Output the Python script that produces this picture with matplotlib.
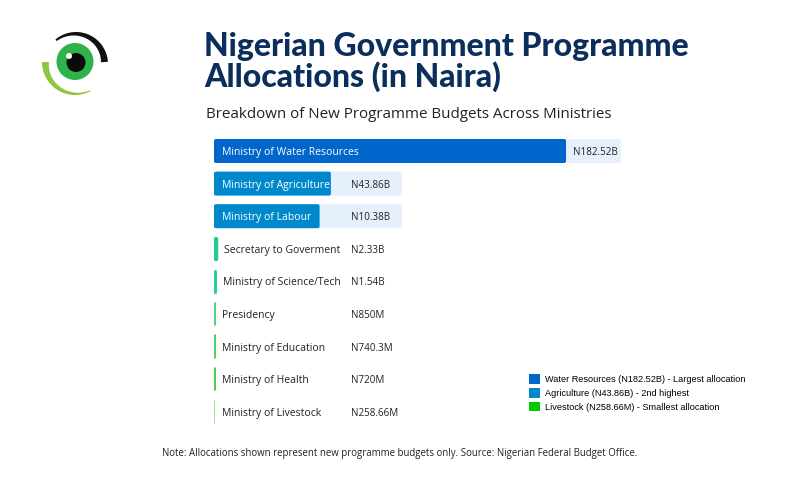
import numpy as np
import matplotlib
matplotlib.use("Agg")
import matplotlib.pyplot as plt
from matplotlib.patches import FancyBboxPatch, Polygon, Circle, Patch

ministries = ["Ministry of Water Resources", "Ministry of Agriculture", "Ministry of Labour",
              "Secretary to Goverment", "Ministry of Science/Tech", "Presidency",
              "Ministry of Education", "Ministry of Health", "Ministry of Livestock"]
amounts_bn = [182.52, 43.86, 10.38, 2.33, 1.54, 0.85, 0.7403, 0.72, 0.25866]
amount_labels = ["N182.52B", "N43.86B", "N10.38B", "N2.33B", "N1.54B",
                 "N850M", "N740.3M", "N720M", "N258.66M"]
bar_colors = ["#0066cc", "#0088cc", "#0088cc", "#20c997", "#20cf88",
              "#2fcb66", "#22c844", "#22c02a", "#7ae86a"]

legend_labels = ["Water Resources (N182.52B) - Largest allocation",
                 "Agriculture (N43.86B) - 2nd highest",
                 "Livestock (N258.66M) - Smallest allocation"]
legend_colors = ["#0066cc", "#0088cc", "#00cc00"]

title_lines = ["Nigerian Government Programme", "Allocations (in Naira)"]
subtitle = "Breakdown of New Programme Budgets Across Ministries"
note = "Note: Allocations shown represent new programme budgets only. Source: Nigerian Federal Budget Office."

FONT = "Open Sans"
W, H, DPI = 800, 482, 100
fig = plt.figure(figsize=(W / DPI, H / DPI), dpi=DPI)
fig.patch.set_facecolor("white")


def fx(px):
    return px / W


def fy(py):
    return 1 - py / H


# overlay in pixel coords for the logo
ov = fig.add_axes([0, 0, 1, 1])
ov.set_xlim(0, W)
ov.set_ylim(H, 0)
ov.axis("off")


def crescent(cx, cy, r, t0, t1, th0, th1, color):
    t = np.radians(np.linspace(t0, t1, 60))
    th = np.linspace(th0, th1, 60)
    outer = np.c_[cx + r * np.cos(t), cy - r * np.sin(t)]
    inner = np.c_[cx + (r - th) * np.cos(t), cy - (r - th) * np.sin(t)][::-1]
    ov.add_patch(Polygon(np.vstack([outer, inner]), closed=True, color=color, lw=0))


crescent(76, 64, 32, 130, 4, 2, 7, "#111111")
crescent(75, 62, 33, 180, 298, 7, 1, "#8dc63f")
ov.add_patch(Circle((75, 61.5), 18.5, color="#2eb24a", lw=0))
ov.add_patch(Circle((76, 62.5), 9.5, color="#0a0a0a", lw=0))
ov.add_patch(Circle((69, 56), 3, color="white", lw=0))

# titles
for k, line in enumerate(title_lines):
    fig.text(fx(204), fy(56 + 31 * k), line, fontsize=23, fontweight="black", family="Lato",
             color="#0b2e5c", va="baseline", ha="left")
fig.text(fx(206), fy(118), subtitle, fontsize=10.9, family=FONT, color="#222222",
         va="baseline", ha="left")
fig.text(fx(400), fy(456), note, fontsize=6.9, family=FONT, color="#222222",
         va="baseline", ha="center")

# bar chart
left_px, right_px = 214, 640
row_px = 32.6
top_px = 151 - row_px / 2
n = len(ministries)
ax = fig.add_axes([fx(left_px), fy(top_px + n * row_px), (right_px - left_px) / W, n * row_px / H])
px_per_unit = 352 / max(amounts_bn)
ax.set_xlim(0, (right_px - left_px) / px_per_unit)
ax.set_ylim(n - 0.5, -0.5)
ax.axis("off")

u = 1 / px_per_unit          # data units per pixel in x
v = 1 / row_px               # data units per pixel in y
bar_h = 24
aspect = v / u
fs_name, fs_val = 7.5, 7.1

fig.canvas.draw()
renderer = fig.canvas.get_renderer()

for i, (name, val, lab, col) in enumerate(zip(ministries, amounts_bn, amount_labels, bar_colors)):
    if val >= 10:
        t = ax.text(8 * u, i, name, fontsize=fs_name, family=FONT, color="white",
                    va="center_baseline", ha="left")
        tw = t.get_window_extent(renderer).width
        width = max(val, 0.30 * max(amounts_bn), (tw + 9) * u)
        bg = max(width + 55 * u, 188 * u)
        ax.add_patch(FancyBboxPatch((0, i - bar_h * v / 2), bg, bar_h * v,
                                    boxstyle=f"round,pad=0,rounding_size={2 * u}",
                                    mutation_aspect=aspect, fc="#e6f0fd", ec="none", zorder=1))
        ax.add_patch(FancyBboxPatch((0, i - bar_h * v / 2), width, bar_h * v,
                                    boxstyle=f"round,pad=0,rounding_size={2 * u}",
                                    mutation_aspect=aspect, fc=col, ec="none", zorder=2))
        t.set_zorder(3)
        vx = max(width + 7 * u, 137 * u)
        ax.text(vx, i, lab, fontsize=fs_val, family=FONT, color="#222222",
                va="center_baseline", ha="left", zorder=3)
    else:
        wpx = max(val / u, 1.6)
        ax.plot([val / 2, val / 2], [i - (bar_h - wpx) * v / 2, i + (bar_h - wpx) * v / 2],
                color=col, lw=wpx * 72 / DPI, solid_capstyle="round", zorder=2)
        ax.text(max(8, wpx + 6) * u, i, name, fontsize=fs_name, family=FONT, color="#222222",
                va="center_baseline", ha="left")
        ax.text(137 * u, i, lab, fontsize=fs_val, family=FONT, color="#222222",
                va="center_baseline", ha="left")

handles = [Patch(fc=c, ec="none") for c in legend_colors]
fig.legend(handles, legend_labels, loc="upper left", bbox_to_anchor=(fx(521), fy(366)),
           frameon=False, prop={"family": "Liberation Sans", "size": 6.6},
           handlelength=1.2, handleheight=1.2, handletextpad=0.5, labelspacing=0.45)

fig.savefig("out.png", dpi=DPI, facecolor="white")
